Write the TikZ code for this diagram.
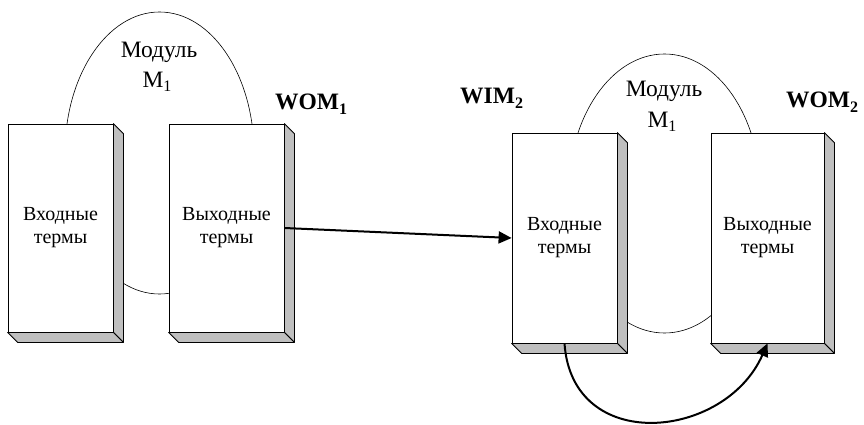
\documentclass[tikz,border=0pt]{standalone}
\usepackage{fontspec}
\setmainfont{Liberation Serif}
\usetikzlibrary{arrows.meta,shapes.geometric}

% lowered index digit set in the text font
\newcommand\lowidx[3]{\raisebox{-#2}{\fontsize{#3}{#3}\selectfont #1}}

\definecolor{sidegray}{gray}{0.75}

\begin{document}
\begin{tikzpicture}[x=1pt,y=-1pt,
  termbox/.style={draw=black, line width=0.8pt, fill=white,
    minimum width=#1, inner sep=0pt, align=center,
    font=\fontsize{20}{23}\selectfont},
  module/.style={ellipse, draw=black, line width=0.6pt, inner sep=0pt},
  modtext/.style={anchor=base, inner sep=0pt, font=\fontsize{23.5}{23.5}\selectfont},
  tag/.style={anchor=base west, inner sep=0pt, font=\fontsize{23.5}{23.5}\selectfont\bfseries},
  face/.style={fill=sidegray, draw=black, line width=0.8pt, line join=round},
  link/.style={line width=2pt, -{Triangle[length=13pt,width=12pt]}}]

\useasboundingbox (0,0) rectangle (864,425);

% module ellipses (behind the boxes)
\node[module, minimum width=189pt, minimum height=282pt] (mod1) at (159.5,153) {};
\node[module, minimum width=192pt, minimum height=279pt] (mod2) at (664.5,193.5) {};

% term boxes
\node[termbox=105pt, minimum height=208pt] (in1)  at (60.5,228)  {Входные\\термы};
\node[termbox=115pt, minimum height=208pt] (out1) at (226.5,228) {Выходные\\термы};
\node[termbox=105pt, minimum height=210pt] (in2)  at (564.5,238) {Входные\\термы};
\node[termbox=113pt, minimum height=210pt] (out2) at (767.5,238) {Выходные\\термы};

% 3D depth faces of the boxes
\foreach \b in {in1,out1,in2,out2} {
  \path[face] (\b.north east) -- ++(10,10) -- ([shift={(10,10)}]\b.south east)
    -- (\b.south east) -- cycle;
  \path[face] (\b.south west) -- ++(10,10) -- ([shift={(10,10)}]\b.south east)
    -- (\b.south east) -- cycle;
}

% module captions
\node[modtext] (cap1a) at (159,58) {Модуль};
\node[modtext] (cap1b) at (157,88) {М\lowidx{1}{4pt}{16}};
\node[modtext] (cap2a) at (664,97) {Модуль};
\node[modtext] (cap2b) at (662,128) {М\lowidx{1}{4pt}{16}};

% memory tags
\node[tag] (wom1) at (275,110) {WOM\lowidx{\bfseries 1}{5pt}{16}};
\node[tag] (wim2) at (460,104) {WIM\lowidx{\bfseries 2}{5pt}{16}};
\node[tag] (wom2) at (786,108) {WOM\lowidx{\bfseries 2}{5pt}{16}};

% connectors
\draw[link] (out1.east) -- (in2.west);
\draw[link] (in2.south) .. controls (572,455) and (725,440) .. (out2.south);

\end{tikzpicture}
\end{document}
